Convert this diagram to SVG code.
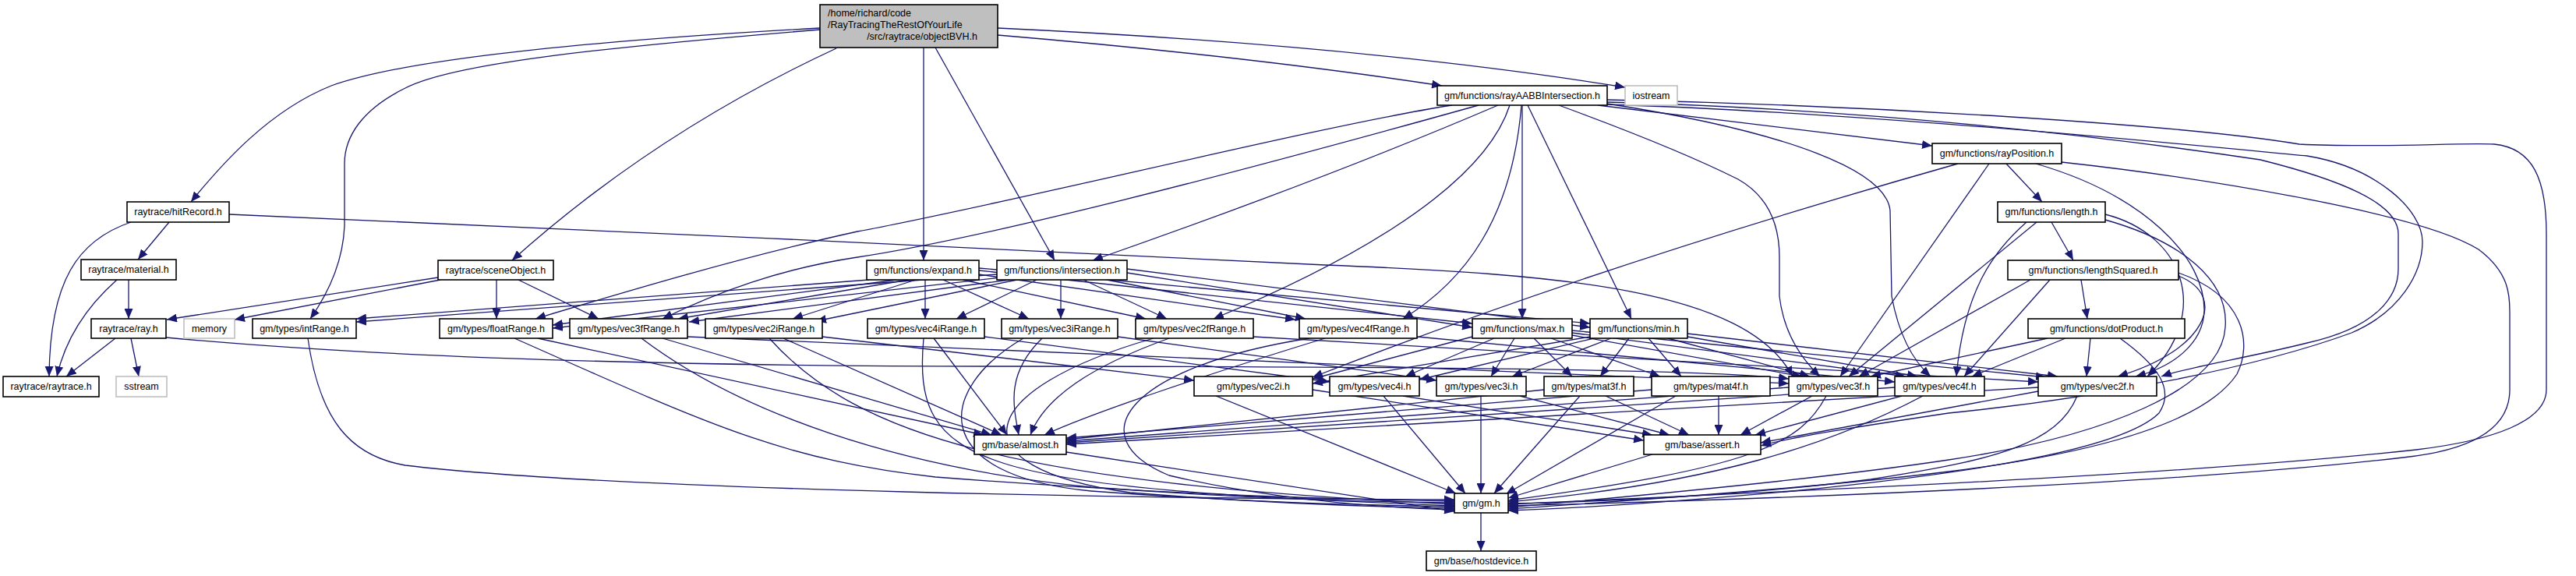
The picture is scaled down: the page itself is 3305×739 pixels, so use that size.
<svg xmlns="http://www.w3.org/2000/svg" width="3305" height="739" viewBox="0 0 3305 739">
<style>
.n rect{fill:#fff;stroke:#000;stroke-width:1.6}
.x rect{fill:#fff;stroke:#bfbfbf;stroke-width:1.6}
.r rect{fill:#bfbfbf;stroke:#000;stroke-width:1.6}
text{font-family:"Liberation Sans",Arial,sans-serif;font-size:12.5px;fill:#000}
.c{text-anchor:middle}
#edges path{fill:none;stroke:#191970;stroke-width:1.3;marker-end:url(#a)}
</style>
<defs>
<marker id="a" markerUnits="userSpaceOnUse" markerWidth="14" markerHeight="11" refX="13" refY="5.5" orient="auto">
<path d="M0,0 L13,5.5 L0,11 z" fill="#191970"/>
</marker>
</defs>
<rect width="3305" height="739" fill="#fff"/>
<g id="edges">
<path d="M1052,36 C760,52 520,76 425,110 C345,142 285,210 245,259"/>
<path d="M1052,38 C760,62 580,82 520,113 C465,140 442,175 442,210 L442,290 C440,335 422,375 398,409"/>
<path d="M1073,62 Q840,170 657,334"/>
<path d="M1185,61 L1185,334"/>
<path d="M1200,61 L1353,334"/>
<path d="M1280,45 Q1600,72 1850,110"/>
<path d="M1280,36 Q1750,58 2085,112"/>
<path d="M217,285 L177,333"/>
<path d="M168,285 C100,308 64,360 63,483"/>
<path d="M294,275 C700,290 1300,322 1700,340 C2000,352 2240,370 2300,483"/>
<path d="M165,359 L165,409"/>
<path d="M150,359 C115,390 85,430 73,483"/>
<path d="M148,434 L85,483"/>
<path d="M168,434 L178,483"/>
<path d="M213,433 C500,460 900,470 1300,470 C1800,470 2200,474 2295,486"/>
<path d="M562,356 L214,410"/>
<path d="M565,359 L301,410"/>
<path d="M637,359 L637,409"/>
<path d="M665,359 L768,409"/>
<path d="M1115,359 L457,409"/>
<path d="M1150,359 L709,417"/>
<path d="M1165,359 L870,409"/>
<path d="M1175,359 L1017,409"/>
<path d="M1187,359 L1187,409"/>
<path d="M1210,359 L1320,409"/>
<path d="M1235,359 L1470,409"/>
<path d="M1256,352 L1662,410"/>
<path d="M1256,347 L1889,415"/>
<path d="M1256,344 L2040,415"/>
<path d="M1279,352 L457,413"/>
<path d="M1285,356 L709,421"/>
<path d="M1295,359 L884,413"/>
<path d="M1305,359 L1047,412"/>
<path d="M1330,359 L1227,409"/>
<path d="M1361,359 L1361,409"/>
<path d="M1390,359 L1497,409"/>
<path d="M1420,359 L1675,409"/>
<path d="M1446,350 L1889,420"/>
<path d="M1446,345 L2040,420"/>
<path d="M1922,135 Q1700,230 1402,334"/>
<path d="M1863,135 C1700,160 1300,260 1100,297 C950,330 800,375 687,409"/>
<path d="M1897,135 C1700,190 1300,300 1100,330 C1000,345 920,375 850,409"/>
<path d="M1937,135 C1900,250 1700,350 1557,409"/>
<path d="M1952,135 C1940,280 1880,360 1800,409"/>
<path d="M1953,135 L1953,409"/>
<path d="M1960,135 L2093,409"/>
<path d="M2000,135 Q2150,190 2230,230 Q2283,260 2283,330 L2283,380 Q2290,440 2335,483"/>
<path d="M2062,133 C2300,170 2420,220 2425,270 L2427,380 Q2440,450 2477,483"/>
<path d="M2050,135 L2479,187"/>
<path d="M2062,128 C2400,135 2800,160 2950,185 C3050,190 3150,183 3200,185 C3250,190 3267,230 3267,300 L3267,500 C3267,540 3200,565 3100,577 C2800,610 2300,630 1935,647"/>
<path d="M2062,131 C2400,140 2700,175 2900,205 C3000,230 3077,260 3077,300 L3077,345 C3077,380 3050,420 2960,440 C2880,460 2810,470 2773,483"/>
<path d="M2062,134 C2400,145 2800,185 2960,200 C3050,215 3108,270 3108,310 C3108,350 3080,400 3017,427 C2900,470 2700,510 2500,530 C2400,545 2300,560 2259,572"/>
<path d="M2574,210 L2620,259"/>
<path d="M2552,210 L2361,483"/>
<path d="M2645,208 C2800,225 3100,270 3180,320 C3220,350 3220,380 3220,400 L3220,500 C3220,560 3150,580 3083,587 C2800,620 2300,640 1935,649"/>
<path d="M2512,210 C2300,270 2000,360 1684,484"/>
<path d="M2612,210 C2750,250 2830,330 2828,400 C2826,440 2790,470 2740,483"/>
<path d="M2632,285 L2660,334"/>
<path d="M2613,285 L2372,483"/>
<path d="M2600,285 C2560,320 2520,370 2510,483"/>
<path d="M2701,275 C2800,300 2840,400 2755,483"/>
<path d="M2701,282 C2800,310 2860,360 2855,420 C2850,500 2700,560 2500,590 C2300,620 2000,645 1935,651"/>
<path d="M2670,359 L2678,409"/>
<path d="M2605,359 L2385,483"/>
<path d="M2630,359 L2520,483"/>
<path d="M2795,354 C2860,380 2830,450 2717,483"/>
<path d="M2795,350 C2880,380 2890,440 2870,480 C2830,540 2700,580 2500,605 C2300,630 2000,648 1935,653"/>
<path d="M2627,434 L2400,483"/>
<path d="M2650,434 L2530,483"/>
<path d="M2682,434 L2677,483"/>
<path d="M2720,434 C2770,470 2790,500 2770,530 C2720,580 2500,610 2300,630 C2100,648 2000,653 1935,655"/>
<path d="M1889,432 L1684,486"/>
<path d="M1917,434 L1803,483"/>
<path d="M1943,434 L1913,483"/>
<path d="M1968,434 L2017,483"/>
<path d="M1990,434 L2130,483"/>
<path d="M2017,430 L2312,483"/>
<path d="M2017,427 L2445,483"/>
<path d="M2017,424 L2625,484"/>
<path d="M2040,432 L1684,492"/>
<path d="M2045,434 L1821,487"/>
<path d="M2067,434 L1940,483"/>
<path d="M2090,434 L2053,483"/>
<path d="M2115,434 L2157,483"/>
<path d="M2140,434 L2322,483"/>
<path d="M2165,432 L2460,483"/>
<path d="M2165,428 L2640,483"/>
<path d="M1055,432 L1532,488"/>
<path d="M1263,432 L1706,490"/>
<path d="M1434,432 L1843,488"/>
<path d="M1608,432 L2615,490"/>
<path d="M1818,432 L2431,490"/>
<path d="M882,432 L2295,492"/>
<path d="M690,434 L1262,558"/>
<path d="M850,434 L1272,558"/>
<path d="M1005,434 L1285,558"/>
<path d="M1198,434 L1292,558"/>
<path d="M1337,434 C1290,480 1300,520 1307,558"/>
<path d="M1500,434 C1400,470 1340,510 1322,558"/>
<path d="M1700,434 C1550,480 1400,530 1340,558"/>
<path d="M2295,497 L1368,566"/>
<path d="M2431,497 L1368,568"/>
<path d="M2615,497 L1368,570"/>
<path d="M1981,500 L1368,564"/>
<path d="M2119,500 L1368,562"/>
<path d="M1684,500 L2109,565"/>
<path d="M1800,508 L2120,558"/>
<path d="M1950,508 L2142,558"/>
<path d="M2060,508 L2167,558"/>
<path d="M2205,508 L2205,558"/>
<path d="M2325,508 L2233,558"/>
<path d="M2440,508 L2252,558"/>
<path d="M2615,502 L2259,568"/>
<path d="M395,434 C410,540 450,585 520,597 C800,630 1500,640 1866,641"/>
<path d="M660,434 C900,540 1000,590 1200,612 C1500,635 1700,640 1866,643"/>
<path d="M823,434 C950,530 1150,600 1400,625 C1600,640 1750,644 1866,645"/>
<path d="M987,434 C1100,560 1300,620 1866,647"/>
<path d="M1185,434 C1170,600 1250,625 1866,649"/>
<path d="M1313,434 C1200,500 1190,610 1400,630 C1600,645 1750,648 1866,650"/>
<path d="M1480,434 C1250,500 1220,600 1450,632 C1650,648 1800,651 1866,652"/>
<path d="M1680,434 C1450,470 1380,560 1500,610 C1650,645 1800,652 1866,654"/>
<path d="M1368,580 L1866,656"/>
<path d="M1560,508 L1868,633"/>
<path d="M1775,508 L1880,633"/>
<path d="M1900,508 L1900,633"/>
<path d="M2027,508 L1917,633"/>
<path d="M2150,508 L1932,634"/>
<path d="M2120,583 L1935,639"/>
<path d="M2343,508 C2310,570 2250,600 1935,642"/>
<path d="M2467,508 C2350,570 2200,620 1935,644"/>
<path d="M2665,508 C2640,570 2560,590 2400,615 C2200,640 2000,645 1935,646"/>
<path d="M1900,658 L1900,707"/>
</g>
<g id="root" class="r"><rect x="1052" y="6" width="228" height="55"/><text x="1062" y="21">/home/richard/code</text><text x="1062" y="36">/RayTracingTheRestOfYourLife</text><text x="1183" y="51" class="c">/src/raytrace/objectBVH.h</text></g>
<g id="rayAABB" class="n"><rect x="1844" y="110" width="218" height="25"/><text x="1953" y="127" class="c">gm/functions/rayAABBIntersection.h</text></g>
<g id="iostream" class="x"><rect x="2085" y="110" width="67" height="25"/><text x="2118.5" y="127" class="c">iostream</text></g>
<g id="rayPosition" class="n"><rect x="2479" y="184" width="166" height="26"/><text x="2562" y="201" class="c">gm/functions/rayPosition.h</text></g>
<g id="hitRecord" class="n"><rect x="163" y="259" width="131" height="26"/><text x="228.5" y="276" class="c">raytrace/hitRecord.h</text></g>
<g id="length" class="n"><rect x="2563" y="259" width="138" height="26"/><text x="2632" y="276" class="c">gm/functions/length.h</text></g>
<g id="material" class="n"><rect x="104" y="333" width="122" height="26"/><text x="165" y="350" class="c">raytrace/material.h</text></g>
<g id="sceneObject" class="n"><rect x="562" y="334" width="148" height="25"/><text x="636" y="351" class="c">raytrace/sceneObject.h</text></g>
<g id="expand" class="n"><rect x="1112" y="334" width="144" height="25"/><text x="1184" y="351" class="c">gm/functions/expand.h</text></g>
<g id="intersection" class="n"><rect x="1279" y="334" width="167" height="25"/><text x="1362.5" y="351" class="c">gm/functions/intersection.h</text></g>
<g id="lengthSquared" class="n"><rect x="2576" y="334" width="219" height="25"/><text x="2685.5" y="351" class="c">gm/functions/lengthSquared.h</text></g>
<g id="ray" class="n"><rect x="117" y="409" width="96" height="25"/><text x="165" y="426" class="c">raytrace/ray.h</text></g>
<g id="memory" class="x"><rect x="236" y="409" width="65" height="25"/><text x="268.5" y="426" class="c">memory</text></g>
<g id="intRange" class="n"><rect x="324" y="409" width="133" height="25"/><text x="390.5" y="426" class="c">gm/types/intRange.h</text></g>
<g id="floatRange" class="n"><rect x="564" y="409" width="145" height="25"/><text x="636.5" y="426" class="c">gm/types/floatRange.h</text></g>
<g id="vec3fRange" class="n"><rect x="731" y="409" width="151" height="25"/><text x="806.5" y="426" class="c">gm/types/vec3fRange.h</text></g>
<g id="vec2iRange" class="n"><rect x="905" y="409" width="150" height="25"/><text x="980" y="426" class="c">gm/types/vec2iRange.h</text></g>
<g id="vec4iRange" class="n"><rect x="1113" y="409" width="150" height="25"/><text x="1188" y="426" class="c">gm/types/vec4iRange.h</text></g>
<g id="vec3iRange" class="n"><rect x="1285" y="409" width="149" height="25"/><text x="1359.5" y="426" class="c">gm/types/vec3iRange.h</text></g>
<g id="vec2fRange" class="n"><rect x="1457" y="409" width="151" height="25"/><text x="1532.5" y="426" class="c">gm/types/vec2fRange.h</text></g>
<g id="vec4fRange" class="n"><rect x="1667" y="409" width="151" height="25"/><text x="1742.5" y="426" class="c">gm/types/vec4fRange.h</text></g>
<g id="max" class="n"><rect x="1889" y="409" width="128" height="25"/><text x="1953" y="426" class="c">gm/functions/max.h</text></g>
<g id="min" class="n"><rect x="2040" y="409" width="125" height="25"/><text x="2102.5" y="426" class="c">gm/functions/min.h</text></g>
<g id="dotProduct" class="n"><rect x="2602" y="409" width="201" height="25"/><text x="2702.5" y="426" class="c">gm/functions/dotProduct.h</text></g>
<g id="raytrace" class="n"><rect x="4" y="483" width="123" height="26"/><text x="65.5" y="500" class="c">raytrace/raytrace.h</text></g>
<g id="sstream" class="x"><rect x="149" y="483" width="65" height="26"/><text x="181.5" y="500" class="c">sstream</text></g>
<g id="vec2i" class="n"><rect x="1532" y="483" width="152" height="25"/><text x="1608" y="500" class="c">gm/types/vec2i.h</text></g>
<g id="vec4i" class="n"><rect x="1706" y="483" width="115" height="25"/><text x="1763.5" y="500" class="c">gm/types/vec4i.h</text></g>
<g id="vec3i" class="n"><rect x="1843" y="483" width="115" height="25"/><text x="1900.5" y="500" class="c">gm/types/vec3i.h</text></g>
<g id="mat3f" class="n"><rect x="1981" y="483" width="115" height="25"/><text x="2038.5" y="500" class="c">gm/types/mat3f.h</text></g>
<g id="mat4f" class="n"><rect x="2119" y="483" width="152" height="25"/><text x="2195" y="500" class="c">gm/types/mat4f.h</text></g>
<g id="vec3f" class="n"><rect x="2295" y="483" width="114" height="25"/><text x="2352" y="500" class="c">gm/types/vec3f.h</text></g>
<g id="vec4f" class="n"><rect x="2431" y="483" width="115" height="25"/><text x="2488.5" y="500" class="c">gm/types/vec4f.h</text></g>
<g id="vec2f" class="n"><rect x="2615" y="483" width="152" height="25"/><text x="2691" y="500" class="c">gm/types/vec2f.h</text></g>
<g id="almost" class="n"><rect x="1250" y="558" width="118" height="25"/><text x="1309" y="575" class="c">gm/base/almost.h</text></g>
<g id="assert" class="n"><rect x="2109" y="558" width="150" height="25"/><text x="2184" y="575" class="c">gm/base/assert.h</text></g>
<g id="gm" class="n"><rect x="1866" y="633" width="69" height="25"/><text x="1900.5" y="650" class="c">gm/gm.h</text></g>
<g id="hostdevice" class="n"><rect x="1830" y="707" width="141" height="25"/><text x="1900.5" y="724" class="c">gm/base/hostdevice.h</text></g>
</svg>
